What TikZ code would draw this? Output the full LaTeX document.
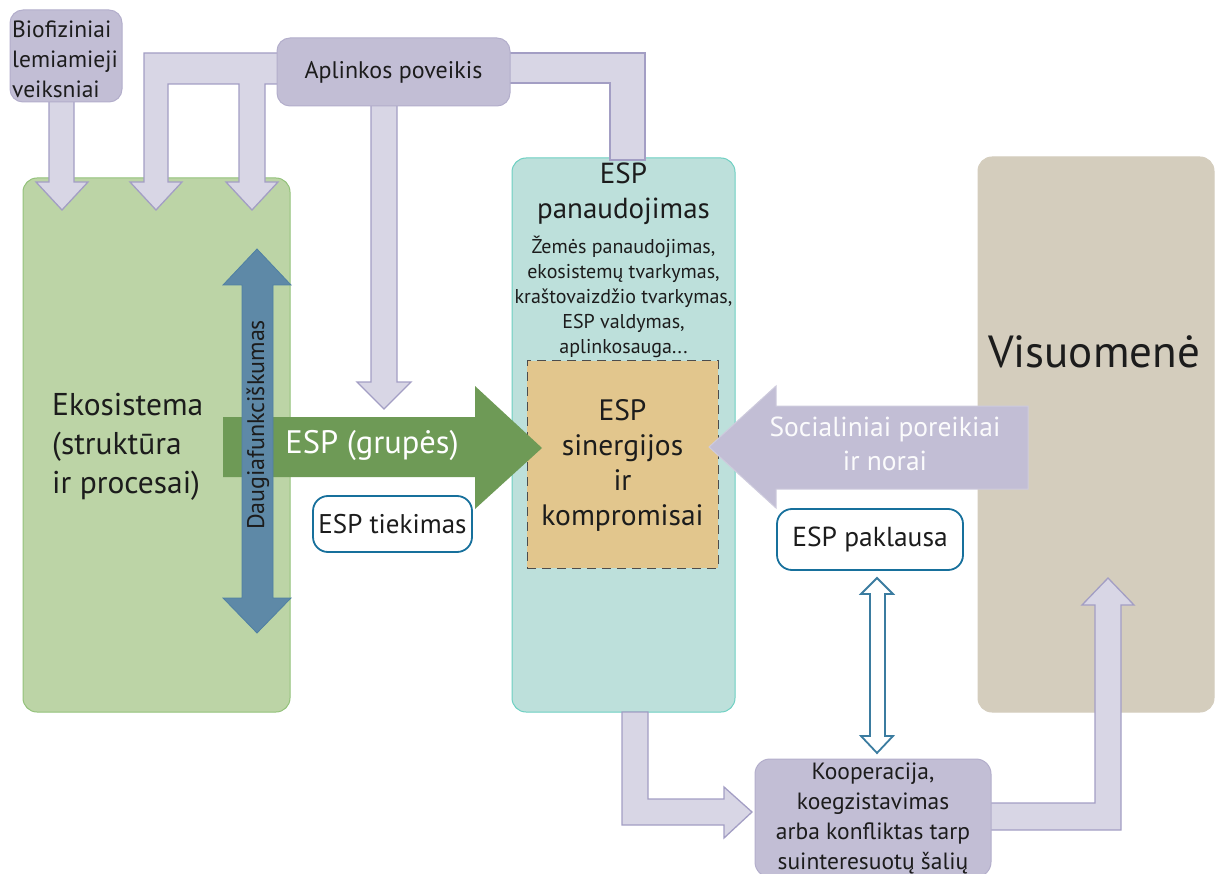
\documentclass[tikz,border=0pt]{standalone}
\usepackage{fontspec}
\setmainfont{PT Sans}
\definecolor{txt}{HTML}{1C1C1C}
\definecolor{purp}{HTML}{C2BED5}
\definecolor{purpline}{HTML}{B3AECB}
\definecolor{bandfill}{HTML}{D8D6E5}
\definecolor{bandline}{HTML}{A39EC4}
\definecolor{ecofill}{HTML}{BCD4A6}
\definecolor{ecoline}{HTML}{93C27A}
\definecolor{esparrow}{HTML}{6E9A56}
\definecolor{multi}{HTML}{5E89A7}
\definecolor{multiline}{HTML}{4F80A3}
\definecolor{usefill}{HTML}{BDE0DB}
\definecolor{useline}{HTML}{6DD0C2}
\definecolor{tanfill}{HTML}{E2C68D}
\definecolor{socfill}{HTML}{D4CDBD}
\definecolor{outline}{HTML}{17709C}
\definecolor{hollow}{HTML}{3B7CA0}
\newcommand{\setfs}[2]{\fontsize{#1}{#2}\selectfont}
\begin{document}
\begin{tikzpicture}[x=1pt,y=-1pt,
  lbl/.style={inner sep=0pt, text=txt},
  softbox/.style={rounded corners=13pt, fill=purp, draw=purpline, line width=1pt, inner sep=0pt},
  band/.style={fill=bandfill, draw=bandline, line width=1.3pt, line join=miter},
  bigbox/.style={rounded corners=14pt, inner sep=0pt, line width=1pt},
  pillbox/.style={rounded corners=15pt, fill=white, draw=outline, line width=1.8pt, inner sep=0pt}]
\clip (0,0) rectangle (1215,874);

% main containers
\node[bigbox, fill=ecofill, draw=ecoline, minimum width=267pt, minimum height=534pt] (eco) at (156.5,445) {};
\node[bigbox, fill=usefill, draw=useline, minimum width=223pt, minimum height=554pt] (use) at (623.5,435) {};
\node[bigbox, fill=socfill, draw=socfill, minimum width=236pt, minimum height=555pt] (soc) at (1096,434.5) {};
\node[fill=tanfill, draw=black!70, dashed, dash pattern=on 9pt off 6pt, line width=1pt,
      minimum width=191pt, minimum height=207pt, inner sep=0pt] (trade) at (622.5,464.5) {};

% bands coming from the top boxes
\draw[band] (290,53) -- (144,53) -- (144,182) -- (130,182) -- (156,210) -- (182,182) -- (168,182)
  -- (168,84) -- (239,84) -- (239,182) -- (226,182) -- (252,210) -- (278,182) -- (265,182)
  -- (265,84) -- (290,84);
\draw[band] (500,53) -- (645,53) -- (645,160) -- (610,160) -- (610,83) -- (500,83);
\draw[band] (49,95) -- (49,182) -- (36,182) -- (62,210) -- (88,182) -- (74,182) -- (74,95);
\draw[band] (371,100) -- (371,382) -- (357,382) -- (384,409) -- (411,382) -- (397,382) -- (397,100);

% top boxes
\node[softbox, minimum width=112pt, minimum height=92pt] (bio) at (66,56) {};
\node[lbl, anchor=west, align=left, font=\setfs{23.5}{30}] (biotext) at (12,59)
  {Biofiziniai\\lemiamieji\\veiksniai};
\node[softbox, minimum width=233pt, minimum height=68pt, font=\setfs{24}{28}, text=txt]
  (env) at (393.5,72) {Aplinkos poveikis};

% ecosystem text
\node[lbl, anchor=west, align=left, font=\setfs{31.5}{39}] (ecotext) at (52,447)
  {Ekosistema\\(struktūra\\ir procesai)};

% ESP flow arrow
\fill[esparrow] (223,417) -- (475,417) -- (475,386) -- (542,448) -- (475,509) -- (475,477) -- (223,477) -- cycle;
\node[inner sep=0pt, text=white, font=\setfs{32.5}{36}] (espgroups) at (372,446) {ESP (grupės)};

% multifunctionality arrow
\draw[fill=multi, draw=multiline, line width=0.8pt] (242,285) -- (223,285) -- (257,249) -- (291,285) -- (273,285)
  -- (273,598) -- (291,598) -- (257,633) -- (223,598) -- (242,598) -- cycle;
\node[lbl, rotate=90, font=\setfs{24}{28}] (multitext) at (258,425) {Daugiafunkciškumas};

% demand arrow
\draw[fill=purp, draw=purp!80!white, line width=1pt] (1028,406) -- (776,406) -- (776,386) -- (709,447)
  -- (776,508) -- (776,489) -- (1028,489) -- cycle;
\node[inner sep=0pt, text=white!94!purp, align=center, font=\setfs{27.5}{34}] (demandtext) at (885,444)
  {Socialiniai poreikiai\\ir norai};

% texts inside the use box
\node[lbl, align=center, font=\setfs{29}{35}] (usetitle) at (623.5,194) {ESP\\panaudojimas};
\node[lbl, align=center, font=\setfs{20}{25}] (uselist) at (623.5,297)
  {Žemės panaudojimas,\\ekosistemų tvarkymas,\\kraštovaizdžio tvarkymas,\\ESP valdymas,\\aplinkosauga...};
\node[lbl, align=center, font=\setfs{29.5}{35}] (tradetext) at (622.5,465)
  {ESP\\sinergijos\\ir\\kompromisai};

% supply and demand labels
\node[pillbox, minimum width=159pt, minimum height=56pt, font=\setfs{27}{30}, text=txt] (supply) at (392.5,524) {ESP tiekimas};
\node[pillbox, minimum width=186pt, minimum height=61pt, font=\setfs{27.5}{30}, text=txt] (demand) at (870,539.5) {ESP paklausa};

% hollow two-way arrow
\draw[fill=white, draw=hollow, line width=1.8pt, line join=miter] (870,594) -- (861,594) -- (877,578) -- (893,594)
  -- (885,594) -- (885,736) -- (893,736) -- (877,753) -- (861,736) -- (870,736) -- cycle;

% bottom L-shaped arrows
\draw[band] (622,712) -- (622,825) -- (724,825) -- (724,838) -- (752,812) -- (724,787) -- (724,799)
  -- (648,799) -- (648,712) -- cycle;
\draw[band] (985,803) -- (1095,803) -- (1095,605) -- (1082,605) -- (1108,578) -- (1134,605) -- (1121,605)
  -- (1121,830) -- (985,830);

% stakeholders box
\node[softbox, rounded corners=15pt, minimum width=236pt, minimum height=118pt, align=center,
  font=\setfs{23.5}{30}, text=txt] (coop) at (873,818)
  {Kooperacija,\\koegzistavimas\\arba konfliktas tarp\\suinteresuotų šalių};

% society label
\node[lbl, font=\setfs{45}{48}] (society) at (1094,352) {Visuomenė};
\end{tikzpicture}
\end{document}
